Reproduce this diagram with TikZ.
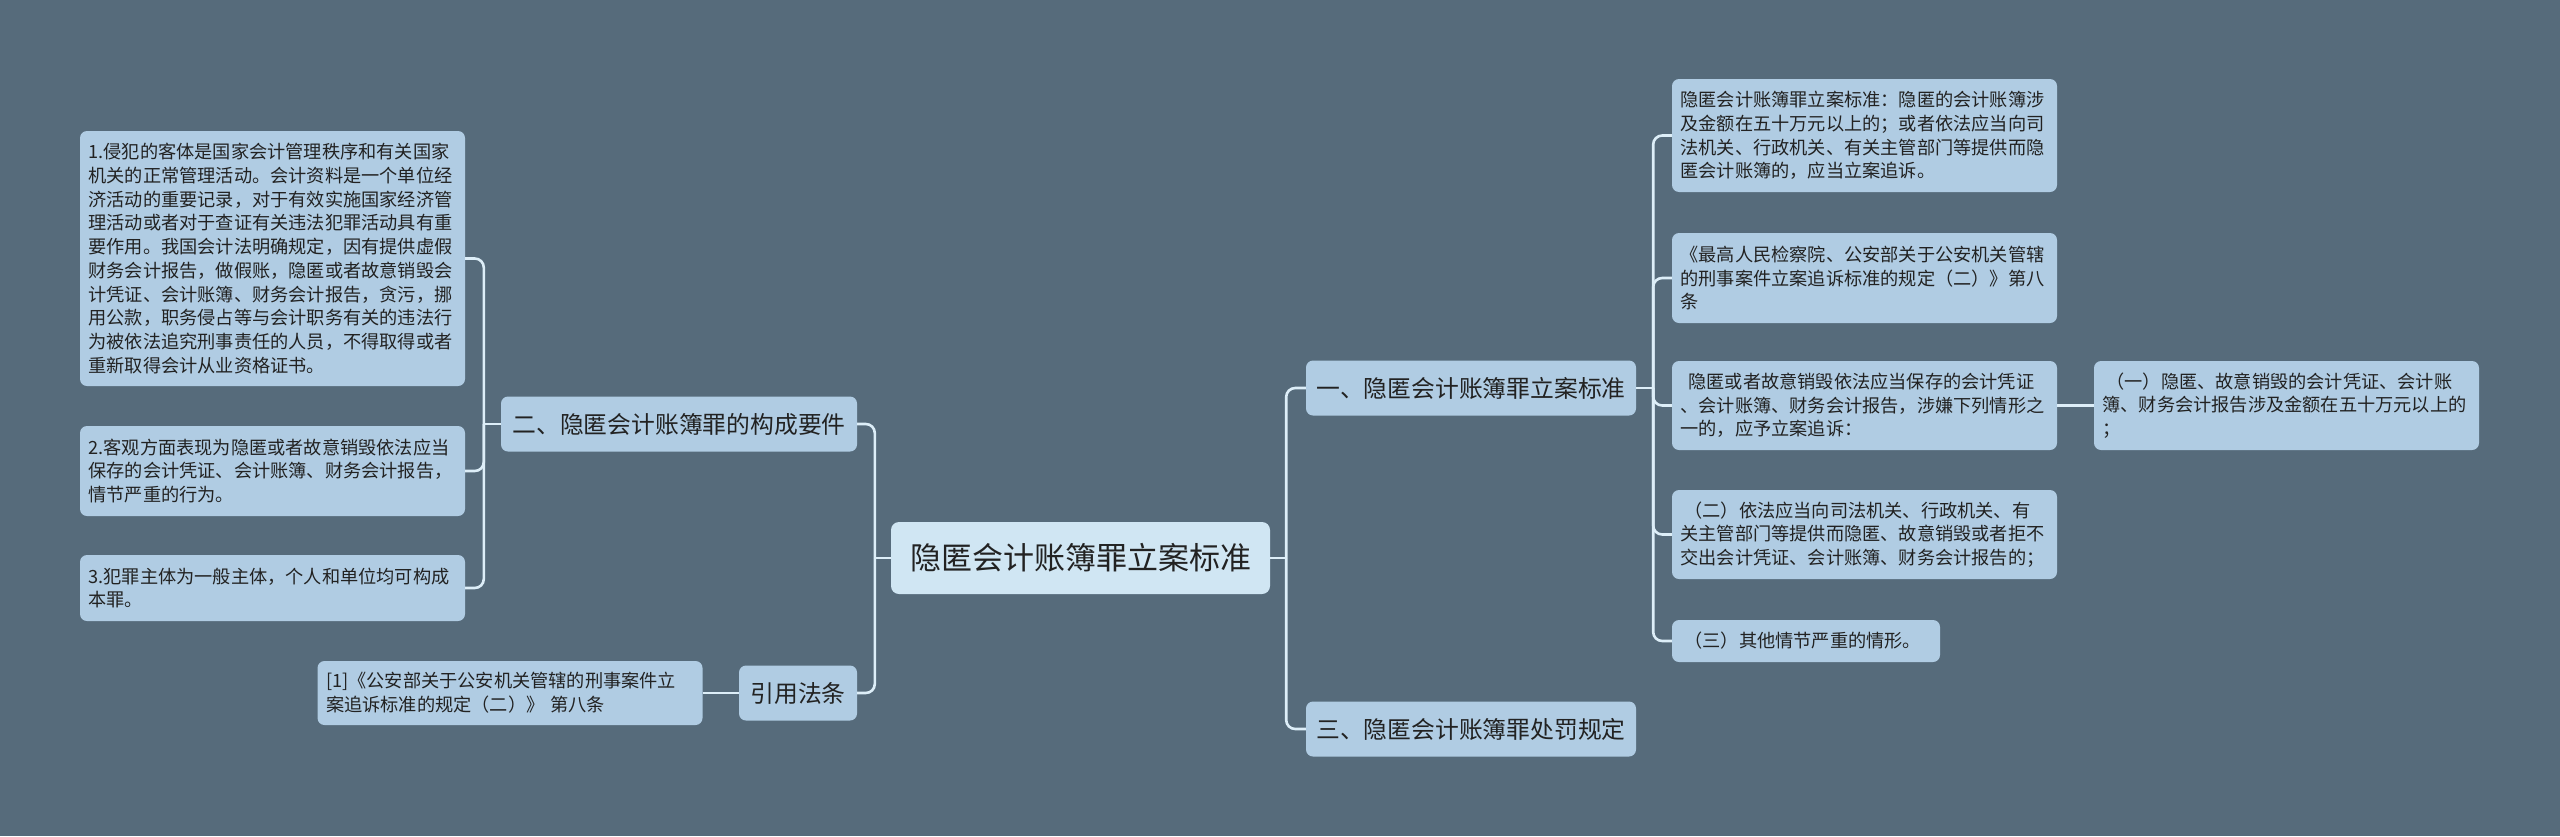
\documentclass[tikz,border=0pt]{standalone}
\usepackage{fontspec}
\setmainfont{Noto Sans CJK SC}
\usetikzlibrary{calc}
\definecolor{bgc}{HTML}{566B7B}
\definecolor{leafc}{HTML}{B0CCE3}
\definecolor{rootc}{HTML}{D0E6F3}
\definecolor{linec}{HTML}{DDEEF8}
\definecolor{txtc}{HTML}{222222}
\tikzset{
  conn/.style={draw=linec, line width=2.6pt, rounded corners=9pt},
  leaf/.style={fill=leafc, rounded corners=7pt, align=left, inner xsep=8.5pt, inner ysep=0pt,
    text width=368pt, text=txtc, font=\fontsize{18.2}{23.7}\selectfont},
  lvl/.style={fill=leafc, rounded corners=7pt, inner xsep=0pt, inner ysep=0pt, minimum height=55pt,
    text=txtc, font=\fontsize{23.8}{28}\selectfont},
  rootbox/.style={fill=rootc, rounded corners=8pt, minimum width=379pt, minimum height=72pt,
    inner xsep=0pt, text=txtc, font=\fontsize{31}{36}\selectfont},
}
\begin{document}
\begin{tikzpicture}[x=1pt,y=-1pt]
\useasboundingbox (0,0) rectangle (2560,836);
\fill[bgc] (0,0) rectangle (2560,836);

% root and main branches
\node[rootbox] (root) at (1080.5,558) {隐匿会计账簿罪立案标准};
\node[lvl, minimum width=330pt] (s1) at (1471,388) {一、隐匿会计账簿罪立案标准};
\node[lvl, minimum width=330pt] (s3) at (1471,729) {三、隐匿会计账簿罪处罚规定};
\node[lvl, minimum width=356pt] (s2) at (679,424) {二、隐匿会计账簿罪的构成要件};
\node[lvl, minimum width=118pt] (ref) at (798,693) {引用法条};

% left leaves
\node[leaf, minimum height=255pt] (l1) at (272.5,258.5) {1.侵犯的客体是国家会计管理秩序和有关国家\\机关的正常管理活动。会计资料是一个单位经\\济活动的重要记录，对于有效实施国家经济管\\理活动或者对于查证有关违法犯罪活动具有重\\要作用。我国会计法明确规定，因有提供虚假\\财务会计报告，做假账，隐匿或者故意销毁会\\计凭证、会计账簿、财务会计报告，贪污，挪\\用公款，职务侵占等与会计职务有关的违法行\\为被依法追究刑事责任的人员，不得取得或者\\重新取得会计从业资格证书。};
\node[leaf, minimum height=90pt] (l2) at (272.5,471) {2.客观方面表现为隐匿或者故意销毁依法应当\\保存的会计凭证、会计账簿、财务会计报告，\\情节严重的行为。};
\node[leaf, minimum height=66pt] (l3) at (272.5,588) {3.犯罪主体为一般主体，个人和单位均可构成\\本罪。};
\node[leaf, minimum height=64pt] (cite) at (510,693) {[1]《公安部关于公安机关管辖的刑事案件立\\案追诉标准的规定（二）》 第八条};

% right leaves
\node[leaf, minimum height=113pt] (a) at (1864.5,135.5) {隐匿会计账簿罪立案标准：隐匿的会计账簿涉\\及金额在五十万元以上的；或者依法应当向司\\法机关、行政机关、有关主管部门等提供而隐\\匿会计账簿的，应当立案追诉。};
\node[leaf, minimum height=90pt] (b) at (1864.5,278) {《最高人民检察院、公安部关于公安机关管辖\\的刑事案件立案追诉标准的规定（二）》第八\\条};
\node[leaf, minimum height=89pt] (c) at (1864.5,405.5) {\hspace*{8pt}隐匿或者故意销毁依法应当保存的会计凭证\\、会计账簿、财务会计报告，涉嫌下列情形之\\一的，应予立案追诉：};
\node[leaf, minimum height=89pt] (d) at (1864.5,534.5) {\hspace*{4pt}（二）依法应当向司法机关、行政机关、有\\关主管部门等提供而隐匿、故意销毁或者拒不\\交出会计凭证、会计账簿、财务会计报告的；};
\node[leaf, minimum height=42pt, text width=251pt] (e) at (1806,641) {\hspace*{4pt}（三）其他情节严重的情形。};
\node[leaf, minimum height=89pt] (f) at (2286.5,405.5) {\hspace*{4pt}（一）隐匿、故意销毁的会计凭证、会计账\\簿、财务会计报告涉及金额在五十万元以上的\\；};

% connectors: straight stub from parent to its spine, then rounded branches
\draw[conn] (root.east) -- ++(16,0) coordinate (jr);
\draw[conn] (root.west) -- ++(-16,0) coordinate (jl);
\draw[conn] (s1.east) -- ++(17,0) coordinate (j1);
\draw[conn] (s2.west) -- ++(-17,0) coordinate (j2);
\draw[conn] (jr) |- (s1.west);
\draw[conn] (jr) |- (s3.west);
\draw[conn] (jl) |- (s2.east);
\draw[conn] (jl) |- (ref.east);
\foreach \n in {a,b,c,d,e} {\draw[conn] (j1) |- (\n.west);}
\draw[conn] (c.east) -- (f.west);
\foreach \n in {l1,l2,l3} {\draw[conn] (j2) |- (\n.east);}
\draw[conn] (ref.west) -- (cite.east);
\end{tikzpicture}
\end{document}
